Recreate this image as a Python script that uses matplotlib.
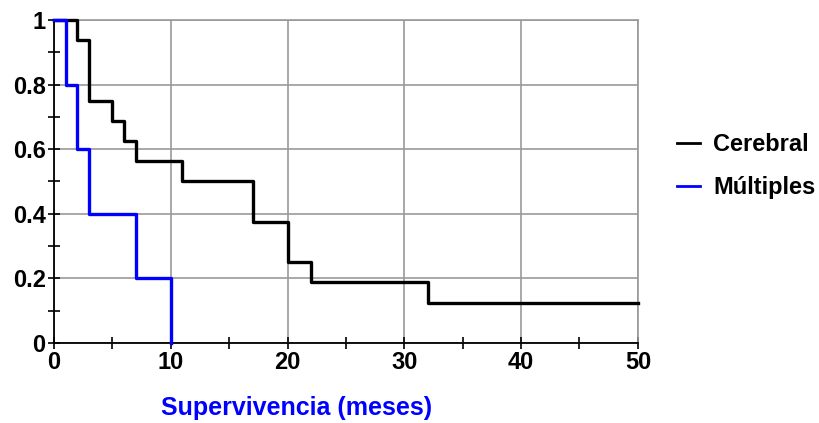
import matplotlib
matplotlib.use("Agg")
import matplotlib.pyplot as plt

# Kaplan-Meier survival estimates (months, survival proportion)
cerebral_t = [0, 2, 3, 5, 6, 7, 11, 17, 20, 22, 32, 50]
cerebral_s = [1.0, 0.9375, 0.75, 0.6875, 0.625, 0.5625, 0.5, 0.375, 0.25, 0.1875, 0.125, 0.125]

multiples_t = [0, 1, 2, 3, 7, 10]
multiples_s = [1.0, 0.8, 0.6, 0.4, 0.2, 0.0]

series_names = ["Cerebral", "Múltiples"]
x_ticks = [0, 10, 20, 30, 40, 50]
y_ticks = [0, 0.2, 0.4, 0.6, 0.8, 1]
y_tick_labels = ["0", "0.2", "0.4", "0.6", "0.8", "1"]

plt.rcParams["font.family"] = ["Liberation Sans", "DejaVu Sans"]

fig = plt.figure(figsize=(8.2, 4.23), dpi=100)
ax = fig.add_axes([0.0659, 0.189, 0.712, 0.764])

ax.step(cerebral_t, cerebral_s, where="post", color="black", lw=2.4,
        clip_on=False, zorder=4, label=series_names[0])
ax.step(multiples_t, multiples_s, where="post", color="#0000ff", lw=2.4,
        clip_on=False, zorder=5, label=series_names[1])

ax.set_xlim(0, 50)
ax.set_ylim(0, 1)
ax.set_xticks(x_ticks)
ax.set_xticks([5, 15, 25, 35, 45], minor=True)
ax.set_yticks(y_ticks)
ax.set_yticklabels(y_tick_labels)
ax.set_yticks([0.1, 0.3, 0.5, 0.7, 0.9], minor=True)

ax.grid(True, which="major", color="#999999", lw=1.2)
ax.set_axisbelow(True)
for side in ("top", "right"):
    ax.spines[side].set_color("#999999")
    ax.spines[side].set_linewidth(1.2)
for side in ("left", "bottom"):
    ax.spines[side].set_color("black")
    ax.spines[side].set_linewidth(1.3)

ax.tick_params(which="both", direction="inout", length=8, width=1.2, color="black",
               top=False, right=False)
ax.tick_params(which="major", labelsize=17, pad=2)
for lbl in ax.get_xticklabels() + ax.get_yticklabels():
    lbl.set_fontweight("bold")

fig.text(0.362, 0.008, "Supervivencia (meses)", color="#0000ff", fontsize=18,
         fontweight="bold", ha="center", va="bottom")

leg = ax.legend(loc="center left", bbox_to_anchor=(1.03, 0.548), frameon=False,
                handlelength=1.0, handletextpad=0.55, labelspacing=0.85,
                prop={"size": 17, "weight": "bold"})
for line in leg.get_lines():
    line.set_linewidth(2.0)

fig.savefig("out.png", dpi=100)
